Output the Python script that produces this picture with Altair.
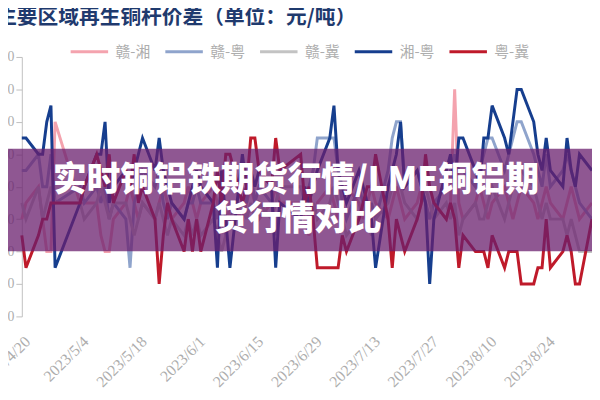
import altair as alt
import pandas as pd

# ---- data ----
dates = [
    "2023-04-20", "2023-04-21", "2023-04-24", "2023-04-25", "2023-04-26", "2023-04-27", "2023-04-28",
    "2023-05-04", "2023-05-05", "2023-05-08", "2023-05-09", "2023-05-10", "2023-05-11", "2023-05-12",
    "2023-05-15", "2023-05-16", "2023-05-17", "2023-05-18", "2023-05-19",
    "2023-05-22", "2023-05-23", "2023-05-24", "2023-05-25", "2023-05-26",
    "2023-05-29", "2023-05-30", "2023-05-31", "2023-06-01", "2023-06-02",
    "2023-06-05", "2023-06-06", "2023-06-07", "2023-06-08", "2023-06-09",
    "2023-06-12", "2023-06-13", "2023-06-14", "2023-06-15", "2023-06-16",
    "2023-06-19", "2023-06-20", "2023-06-21",
    "2023-06-26", "2023-06-27", "2023-06-28", "2023-06-29", "2023-06-30",
    "2023-07-03", "2023-07-04", "2023-07-05", "2023-07-06", "2023-07-07",
    "2023-07-10", "2023-07-11", "2023-07-12", "2023-07-13", "2023-07-14",
    "2023-07-17", "2023-07-18", "2023-07-19", "2023-07-20", "2023-07-21",
    "2023-07-24", "2023-07-25", "2023-07-26", "2023-07-27", "2023-07-28",
    "2023-07-31", "2023-08-01", "2023-08-02", "2023-08-03", "2023-08-04",
    "2023-08-07", "2023-08-08", "2023-08-09", "2023-08-10", "2023-08-11",
    "2023-08-14", "2023-08-15", "2023-08-16", "2023-08-17", "2023-08-18",
    "2023-08-21", "2023-08-22", "2023-08-23", "2023-08-24", "2023-08-25",
    "2023-08-28", "2023-08-29", "2023-08-30", "2023-08-31", "2023-09-01",
    "2023-09-04",
]

gan_xiang = [-100, -50, 0, -100, -200, -200, 200,
             -50, -50, -50, -150, -200, -200, -100,
             -50, 0, -50, -100, -50,
             -100, -50, 0, -50, -100,
             -50, 0, -50, -100, -50,
             0, -50, -100, -150, -50,
             -100, -50, 0, -50, -100,
             -50, 0, -50,
             -50, -100, -150, -100, -50,
             0, -50, -100, -50, 0,
             -50, -100, -50, 0, -50,
             -100, -50, 0, -50, -100,
             -50, 0, -50, -100, -50,
             -100, -50, 300, -50, -100,
             -50, 0, -50, -100, -50,
             0, -50, -100, -50, 0,
             -50, -100, -50, 0, -50,
             -100, -50, 0, -50, -100,
             -50]

gan_yue = [50, 50, 100, 0, 0, 100, -50,
           0, -50, 0, -50, 0, -100, -50,
           -100, -250, -50, 0, 50,
           0, 50, -50, -100, -50,
           -100, -50, -50, 0, -50,
           -50, -100, 0, -150, -100,
           0, -50, 50, -50, 0,
           -50, -150, -50,
           -100, -50, 0, 50, 150,
           150, 150, 50, -50, -100,
           0, -50, -100, -50, -100,
           50, 150, 200, 200, 0,
           50, 0, -50, -100, -50,
           0, 50, 100, 50, 50,
           0, 50, 100, 150, 150,
           50, 100, 150, 200, 200,
           100, 50, 0, 100, 0,
           50, 100, 50, 0, -50,
           -100]

gan_ji = [-50, -100, 0, -100, -50, 0, -50,
          -50, -100, -50, 0, -50, -100, -50,
          -50, -100, -150, -100, -50,
          -100, -50, -100, -150, -100,
          -150, -100, -150, -100, -150,
          -100, -150, -200, -150, -100,
          -50, -100, -50, -100, -50,
          -100, -50, 0,
          0, -50, -100, -50, -100,
          -50, 0, -50, -100, -150,
          -100, -50, -100, -150, -100,
          -50, 0, 50, 0, -50,
          -100, -50, 0, -50, -100,
          -50, -100, -50, -150, -100,
          -50, -100, -100, -50, 0,
          -100, -50, 0, 50, 50,
          0, -50, -100, -50, -100,
          -100, -150, -100, -150, -200,
          -200]

xiang_yue = [150, 150, 100, 100, 200, 250, -250,
             -50, 0, 100, 100, 200, -50, 0,
             50, 0, 50, 100, 150,
             50, 150, 50, 0, -50,
             -100, -50, 0, 50, 0,
             -50, -250, 50, -100, -250,
             100, 0, 50, 0, 50,
             0, -250, -50,
             -100, 0, -50, 0, 50,
             150, 250, 50, 0, -50,
             50, 0, -50, -100, -250,
             0, 50, 100, 200, 0,
             50, 0, -50, -300, -100,
             50, 100, 0, 150, 150,
             50, 0, 150, 150, 250,
             150, 100, 200, 300, 300,
             200, 100, 50, 150, 50,
             0, 150, 50, 0, 100,
             50]

yue_ji = [-150, -250, -150, -100, -100, -50, -50,
          -50, 0, 100, 50, 0, 100, -50,
          50, 0, 100, -50, 0,
          -100, -300, -150, -50, -100,
          -200, -100, -200, -100, -200,
          -50, 50, -50, 100, 100,
          -50, 0, 150, 150, 50,
          0, 150, 50,
          100, -50, 0, -100, -250,
          -250, -250, -250, -150, -200,
          -100, -50, 0, 0, 100,
          -100, -250, -100, -150, -200,
          -100, -50, 100, 0, -50,
          -100, -50, -100, -250, -150,
          -200, -200, -200, -250, -150,
          -250, -200, -200, -200, -300,
          -300, -250, -250, -100, -250,
          -200, -150, -200, -300, -300,
          -100]

series_names = ["赣-湘", "赣-粤", "赣-冀", "湘-粤", "粤-冀"]
series_colors = ["#F4A3AE", "#8FA4CC", "#C3C3C3", "#163E8E", "#BF1A2A"]
y_ticks = [-400, -300, -200, -100, 0, 100, 200, 300, 400]
x_label_dates = [(4, 20), (5, 4), (5, 18), (6, 1), (6, 15), (6, 29), (7, 13), (7, 27), (8, 10), (8, 24)]

chart_title = "主要区域再生铜杆价差（单位：元/吨）"
banner_line1 = "实时铜铝铁期货行情/LME铜铝期"
banner_line2 = "货行情对比"

# ---- build table ----
rows = []
for name, vals in zip(series_names, [gan_xiang, gan_yue, gan_ji, xiang_yue, yue_ji]):
    for d, v in zip(dates, vals):
        rows.append({"date": d, "series": name, "value": v})
df = pd.DataFrame(rows)

W, H = 578, 263

x_enc = alt.X(
    "date:T",
    scale=alt.Scale(type="utc", domain=[alt.DateTime(year=2023, month=4, date=20, utc=True),
                                        alt.DateTime(year=2023, month=9, date=4, utc=True)]),
    axis=alt.Axis(
        values=[alt.DateTime(year=2023, month=m, date=d, utc=True) for m, d in x_label_dates],
        format="%Y/%-m/%-d", labelAngle=-45, ticks=False, domain=False, grid=False,
        labelPadding=17, labelColor="#ADADAD", labelFont="Liberation Serif", labelFontSize=16,
        labelFlush=False, labelOverlap=False, title=None,
    ),
)
y_enc = alt.Y(
    "value:Q",
    scale=alt.Scale(domain=[-400, 400], nice=False),
    axis=alt.Axis(values=y_ticks, grid=False, title=None, domainColor="#BFBFBF", tickColor="#BFBFBF",
                  tickSize=6, labelColor="#ADADAD", labelFont="Liberation Serif", labelFontSize=14,
                  labelPadding=2),
)

lines = alt.Chart(df).mark_line(strokeWidth=3).encode(
    x=x_enc,
    y=y_enc,
    color=alt.Color(
        "series:N",
        scale=alt.Scale(domain=series_names, range=series_colors),
        sort=series_names,
        legend=alt.Legend(
            orient="none", legendX=48, legendY=-26, direction="horizontal", columns=5,
            symbolType="stroke", symbolSize=1444, symbolStrokeWidth=3,
            labelFont="Noto Sans CJK SC", labelFontSize=15, labelColor="#ADADAD",
            labelOffset=6, columnPadding=8, title=None,
        ),
    ),
)

one = pd.DataFrame({"k": [0]})
banner = alt.Chart(one).mark_rect(color="#6A1F6E", opacity=0.75).encode(
    x=alt.value(-22), x2=alt.value(600), y=alt.value(93), y2=alt.value(197)
)
text1 = alt.Chart(pd.DataFrame({"t": [banner_line1]})).mark_text(
    align="center", baseline="middle", font="Noto Sans CJK SC", fontSize=34, fontWeight=900, color="white"
).encode(text="t:N", x=alt.value(278), y=alt.value(126))
text2 = alt.Chart(pd.DataFrame({"t": [banner_line2]})).mark_text(
    align="center", baseline="middle", font="Noto Sans CJK SC", fontSize=34, fontWeight=900, color="white"
).encode(text="t:N", x=alt.value(280), y=alt.value(165))
title = alt.Chart(pd.DataFrame({"t": [chart_title]})).mark_text(
    align="left", baseline="middle", font="Noto Sans CJK SC", fontSize=21, fontWeight="bold", color="#1F3A6E"
).encode(text="t:N", x=alt.value(-26), y=alt.value(-39))

chart = alt.layer(lines, banner, text1, text2, title).properties(
    width=W, height=H,
    autosize=alt.AutoSizeParams(type="none"),
    padding={"left": 14, "top": 47, "right": 0, "bottom": 76},
    background="white",
).configure_view(stroke=None)

chart.save("out.html", embed_options={"renderer": "svg", "actions": False})
